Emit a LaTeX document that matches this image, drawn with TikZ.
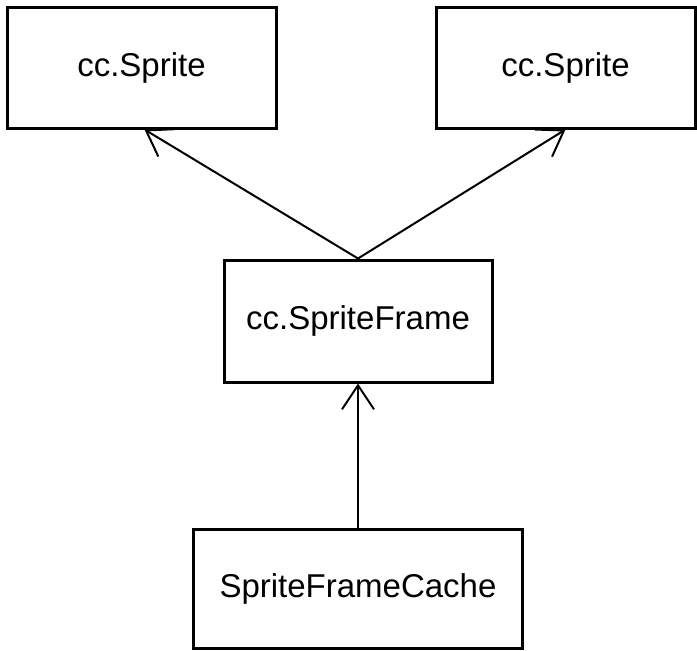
\documentclass[tikz,border=0pt]{standalone}
\usepackage{xcolor}
\usepackage{fontspec}
\setmainfont{Liberation Sans}
\usepackage{tikz}
\usetikzlibrary{arrows.meta}

\begin{document}
\begin{tikzpicture}
[x=0.5pt, y=-0.5pt, font=\fontsize{16.5}{20}\selectfont,
    classbox/.style={rectangle, draw=black, line width=1.5pt,
    fill=white, inner sep=0pt, align=center},
    inherit/.style={draw=black, line width=1pt,
    -{Straight Barb[length=12pt,width=16pt,line width=1pt]}}
    ]
    \useasboundingbox (0,0) rectangle (697,650);

    \node[classbox, minimum width=134.5pt, minimum height=60.5pt] (lsprite) at (141.5,67.5) {cc.Sprite};
    \node[classbox, minimum width=129.5pt, minimum height=60.5pt] (rsprite) at (565.5,67.5) {cc.Sprite};
    \node[classbox, minimum width=134pt, minimum height=61pt] (frame) at (358,321) {cc.SpriteFrame};
    \node[classbox, minimum width=164.5pt, minimum height=59.5pt] (cache) at (358,588.5) {SpriteFrameCache};

    \draw[inherit] (frame.north) -- ([xshift=1.5pt]lsprite.south);
    \draw[inherit] (frame.north) -- (rsprite.south);
    \draw[inherit] (cache.north) -- (frame.south);
\end{tikzpicture}
\end{document}
